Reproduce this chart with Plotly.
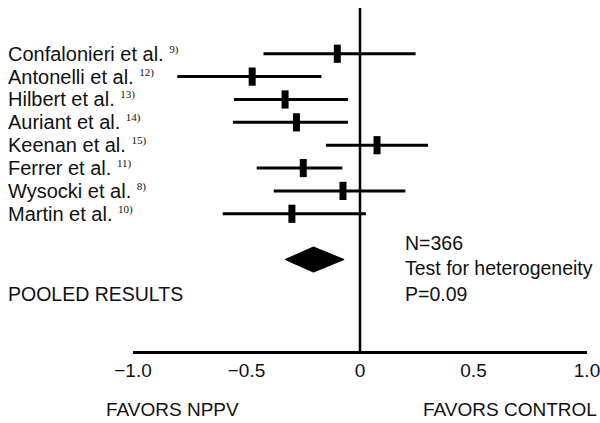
import plotly.graph_objects as go

studies = ["Confalonieri et al.", "Antonelli et al.", "Hilbert et al.", "Auriant et al.",
           "Keenan et al.", "Ferrer et al.", "Wysocki et al.", "Martin et al."]
refs = ["9)", "12)", "13)", "14)", "15)", "11)", "8)", "10)"]
est = [-0.10, -0.475, -0.33, -0.28, 0.075, -0.25, -0.075, -0.30]
lo = [-0.425, -0.805, -0.555, -0.56, -0.15, -0.455, -0.38, -0.605]
hi = [0.245, -0.17, -0.053, -0.053, 0.30, -0.078, 0.20, 0.026]
pooled_est, pooled_lo, pooled_hi = -0.205, -0.33, -0.07
tick_vals = [-1.0, -0.5, 0, 0.5, 1.0]
tick_text = ["\u22121.0", "\u22120.5", "0", "0.5", "1.0"]
stats_text = ["N=366", "Test for heterogeneity", "P=0.09"]

FONT = "Liberation Sans, Arial, sans-serif"
rows = list(range(len(studies)))
pooled_row = 9

fig = go.Figure()
for i in rows:
    fig.add_trace(go.Scatter(x=[lo[i], hi[i]], y=[i, i], mode="lines",
                             line=dict(color="black", width=3), showlegend=False,
                             hoverinfo="skip"))
fig.add_trace(go.Scatter(x=est, y=rows, mode="markers",
                         marker=dict(symbol="line-ns", size=13, color="black",
                                     line=dict(color="black", width=7)),
                         showlegend=False))
h = 0.55
fig.add_trace(go.Scatter(x=[pooled_lo, pooled_est, pooled_hi, pooled_est, pooled_lo],
                         y=[pooled_row, pooled_row - h, pooled_row, pooled_row + h, pooled_row],
                         mode="lines", fill="toself", fillcolor="black",
                         line=dict(color="black", width=1), showlegend=False))

fig.add_shape(type="line", x0=0, x1=0, y0=-2, y1=13, xref="x", yref="y",
              line=dict(color="black", width=2.5))

sup_style = "font-family:'Liberation Serif',serif;font-size:11px"
for i in rows:
    fig.add_annotation(x=-0.279, xref="paper", y=i, yref="y", xanchor="left",
                       yanchor="middle", showarrow=False,
                       text=f"{studies[i]} <sup><span style=\"{sup_style}\">{refs[i]}</span></sup>",
                       font=dict(family=FONT, size=20, color="#111"))

fig.add_annotation(x=-0.279, xref="paper", y=10.52, yref="y", xanchor="left",
                   yanchor="middle", showarrow=False, text="POOLED RESULTS",
                   font=dict(family=FONT, size=19.5, color="#111"))
for k, yy in enumerate([8.26, 9.35, 10.52]):
    fig.add_annotation(x=0.19, xref="x", y=yy, yref="y", xanchor="left",
                       yanchor="middle", showarrow=False, text=stats_text[k],
                       font=dict(family=FONT, size=19.5, color="#111"))

fig.add_annotation(x=-0.064, xref="paper", y=-0.172, yref="paper", xanchor="left",
                   yanchor="middle", showarrow=False, text="FAVORS NPPV",
                   font=dict(family=FONT, size=19, color="#111"))
fig.add_annotation(x=1.0264, xref="paper", y=-0.172, yref="paper", xanchor="right",
                   yanchor="middle", showarrow=False, text="FAVORS CONTROL",
                   font=dict(family=FONT, size=19, color="#111"))

fig.update_layout(
    width=600, height=423,
    margin=dict(l=133, r=13, t=8, b=72, autoexpand=False),
    paper_bgcolor="white", plot_bgcolor="white",
    xaxis=dict(range=[-1, 1], tickvals=tick_vals, ticktext=tick_text,
               showgrid=False, zeroline=False, showline=True, linecolor="black",
               linewidth=3, ticks="", tickfont=dict(family=FONT, size=19, color="#111"),
               ticklabelstandoff=0, ticklabeloverflow="allow", automargin=False),
    yaxis=dict(range=[13, -2], showgrid=False, zeroline=False, showline=False,
               showticklabels=False, ticks="", automargin=False),
)
fig.write_html("out.html", config={"displayModeBar": False},
               post_script="document.body.style.margin='0';document.body.style.padding='0';")
